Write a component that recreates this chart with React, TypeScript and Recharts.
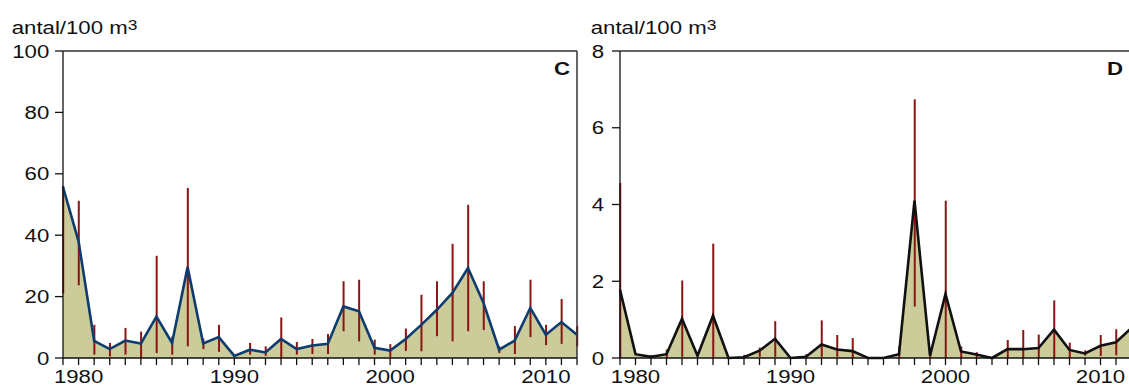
import React from 'react';
import { ComposedChart, Area, Line, Bar, XAxis, YAxis, ReferenceLine } from 'recharts';

const years = [
  1979, 1980, 1981, 1982, 1983, 1984, 1985, 1986, 1987, 1988, 1989, 1990,
  1991, 1992, 1993, 1994, 1995, 1996, 1997, 1998, 1999, 2000, 2001, 2002,
  2003, 2004, 2005, 2006, 2007, 2008, 2009, 2010, 2011, 2012,
];

// panel C
const cValues = [
  55.7, 38, 5.6, 2.9, 5.7, 4.7, 13.5, 4.9, 29.6, 4.7, 6.8, 0.7,
  2.7, 1.8, 6.2, 2.9, 4.1, 4.6, 16.8, 15.2, 3.3, 2.4, 6.2, 10.8,
  15.7, 21.2, 29.3, 17.9, 2.7, 5.7, 16.3, 7.6, 11.7, 7.6,
];
const cLow = [
  21, 23.7, 1.1, 0.5, 1.1, 0, 1.6, 1.1, 3.8, 2.9, 2, null,
  1.1, 0.7, 0, 1.1, 1.3, 1.3, 8.7, 5.4, 1.1, 0.3, 2.3, 2.2,
  7.1, 5.4, 8.7, 9.1, 1.6, 1.3, 6.8, 4.2, 4.6, 3.8,
];
const cHigh = [
  56, 51.2, 10.8, 4.9, 9.8, 8.6, 33.3, 7, 55.4, 6.3, 10.8, null,
  4.9, 3.8, 13.2, 5.2, 6.2, 7.8, 25, 25.5, 6, 4.5, 9.6, 20.6,
  25, 37.2, 49.9, 25, 3.8, 10.4, 25.5, 10.8, 19.2, 10.4,
];
const cTicks = [0, 20, 40, 60, 80, 100];

// panel D
const dValues = [
  1.78, 0.1, 0.03, 0.1, 1.02, 0.06, 1.1, 0, 0.02, 0.19, 0.5, 0,
  0.03, 0.35, 0.22, 0.18, 0, 0, 0.1, 4.1, 0.06, 1.67, 0.17, 0.09,
  0, 0.23, 0.23, 0.26, 0.74, 0.21, 0.12, 0.32, 0.41, 0.78,
];
const dLow = [
  0, null, 0, 0, 0.03, null, 0, null, 0, 0.03, 0.03, null,
  0, 0.03, 0.03, 0, null, null, 0, 1.34, 0, 0, 0, 0,
  null, 0, 0, 0, 0, 0, 0.06, 0.05, 0.07, null,
];
const dHigh = [
  4.56, null, 0.08, 0.22, 2.02, null, 2.98, null, 0.08, 0.27, 0.96, null,
  0.1, 0.98, 0.6, 0.52, null, null, 0.3, 6.74, 0.2, 4.1, 0.3, 0.15,
  null, 0.47, 0.73, 0.61, 1.5, 0.4, 0.2, 0.6, 0.75, null,
];
const dTicks = [0, 2, 4, 6, 8];

const FONT = '"Liberation Sans", Arial, Helvetica, sans-serif';
const SX = 1.2; // reference type is a bit wider than Arial
const FILL = '#cccc9a';
const ERR = '#8b1414';

const XTick = (props: any) => {
  const { x, y, payload } = props;
  if (payload.value % 10 !== 0) return <g />;
  return (
    <g transform={`translate(${x},${y}) scale(${SX},1)`}>
      <text x={0} y={16} textAnchor="middle" fontFamily={FONT} fontSize={18.5} fill="#111">
        {payload.value}
      </text>
    </g>
  );
};

const makeYTick = (gap: number) => (props: any) => {
  const { x, y, payload } = props;
  return (
    <g transform={`translate(${x - gap},${y}) scale(${SX},1)`}>
      <text x={0} y={6.6} textAnchor="end" fontFamily={FONT} fontSize={18.5} fill="#111">
        {payload.value}
      </text>
    </g>
  );
};

const Panel = ({ left, values, lows, highs, yMax, yTicks, stroke, marginRight, gap, rightBorder }: any) => {
  const data = years.map((year, i) => ({
    year,
    value: values[i],
    range: lows[i] == null ? null : [lows[i], highs[i]],
  }));
  const YTick = makeYTick(gap);
  return (
    <div style={{ position: 'absolute', left, top: 0 }}>
      <ComposedChart
        width={600}
        height={386}
        data={data}
        margin={{ top: 51, right: marginRight, bottom: 0, left: 0 }}
      >
        <XAxis
          dataKey="year"
          type="number"
          domain={[1979, 2012]}
          ticks={years}
          interval={0}
          tickSize={7}
          height={28}
          tick={<XTick />}
          stroke="#111"
          strokeWidth={1.3}
        />
        <YAxis
          type="number"
          domain={[0, yMax]}
          ticks={yTicks}
          interval={0}
          width={63}
          tickSize={8}
          tick={<YTick />}
          stroke="#111"
          strokeWidth={1.3}
        />
        <ReferenceLine y={yMax} stroke="#333" strokeWidth={1.5} />
        {rightBorder && <ReferenceLine x={2012} stroke="#333" strokeWidth={1.5} />}
        <Area
          dataKey="value"
          type="linear"
          fill={FILL}
          fillOpacity={1}
          stroke="none"
          isAnimationActive={false}
        />
        <Bar dataKey="range" barSize={2} fill={ERR} isAnimationActive={false} />
        <Line
          dataKey="value"
          type="linear"
          stroke={stroke}
          strokeWidth={2.6}
          dot={false}
          activeDot={false}
          isAnimationActive={false}
        />
      </ComposedChart>
    </div>
  );
};

const Title = ({ x }: { x: number }) => (
  <text transform={`translate(${x},34) scale(${SX},1)`} fontFamily={FONT} fontSize={18.5} fill="#111">
    antal/100 m
    <tspan dy={-3.6} fontSize={14.5}>3</tspan>
  </text>
);

export default function App() {
  return (
    <div
      style={{
        position: 'fixed',
        left: 0,
        top: 0,
        width: 1129,
        height: 386,
        overflow: 'hidden',
        background: '#fff',
      }}
    >
      <Panel
        left={0}
        values={cValues}
        lows={cLow}
        highs={cHigh}
        yMax={100}
        yTicks={cTicks}
        stroke="#0e3c6e"
        marginRight={23}
        gap={3.7}
        rightBorder
      />
      <Panel
        left={557}
        values={dValues}
        lows={dLow}
        highs={dHigh}
        yMax={8}
        yTicks={dTicks}
        stroke="#111"
        marginRight={25.5}
        gap={6}
        rightBorder={false}
      />
      <svg width={1129} height={386} style={{ position: 'absolute', left: 0, top: 0, pointerEvents: 'none' }}>
        <Title x={11.7} />
        <Title x={590.7} />
        <text transform={`translate(570,75) scale(${SX},1)`} textAnchor="end" fontFamily={FONT} fontWeight="bold" fontSize={18.5} fill="#111">
          C
        </text>
        <text transform={`translate(1123,75) scale(${SX},1)`} textAnchor="end" fontFamily={FONT} fontWeight="bold" fontSize={18.5} fill="#111">
          D
        </text>
      </svg>
    </div>
  );
}
